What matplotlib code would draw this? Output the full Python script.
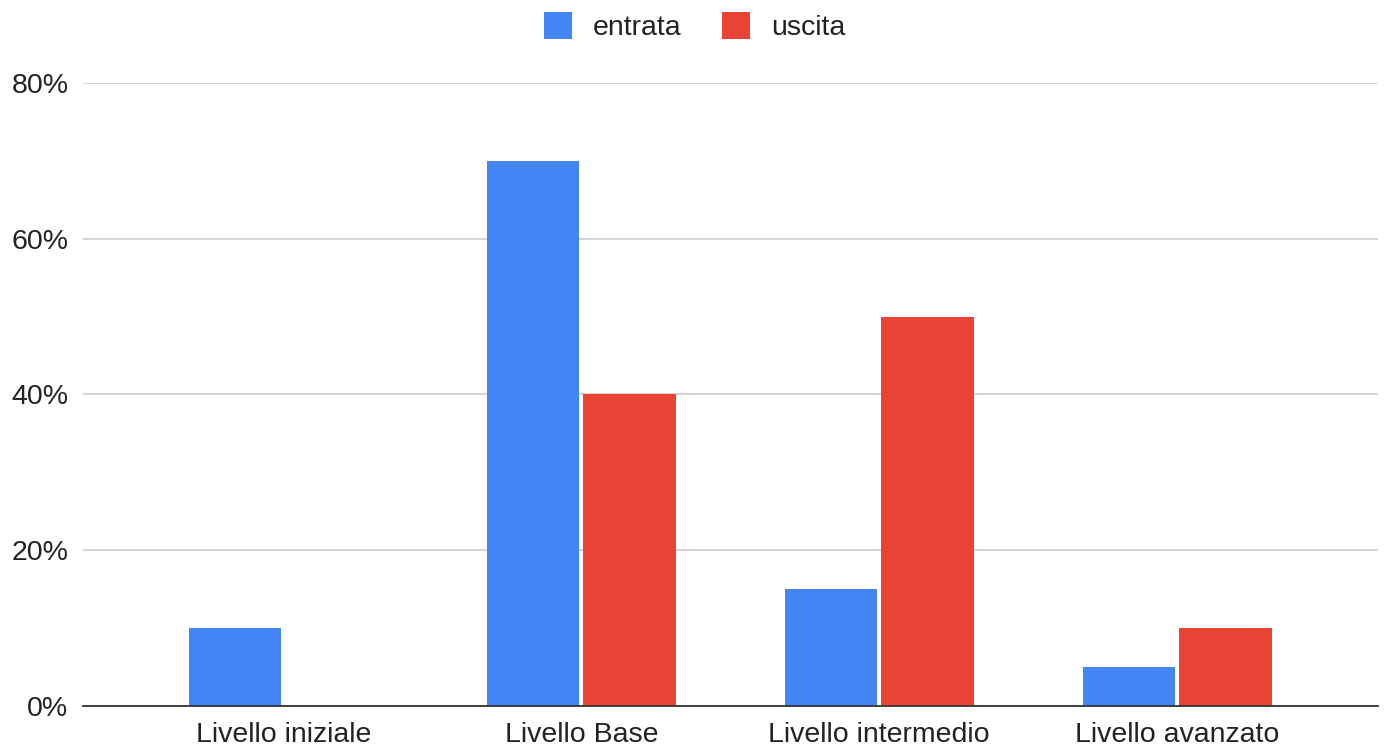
import matplotlib
matplotlib.use("Agg")
import matplotlib.pyplot as plt
import numpy as np

# Data
categories = ["Livello iniziale", "Livello Base", "Livello intermedio", "Livello avanzato"]
entrata = [10, 70, 15, 5]
uscita = [0, 40, 50, 10]
yticks = [0, 20, 40, 60, 80]

plt.rcParams['font.family'] = ['Liberation Sans', 'DejaVu Sans']

fig = plt.figure(figsize=(13.89, 7.54), dpi=100)
ax = fig.add_axes([0.0598, 0.0637, 0.9322, 0.8263])

x = np.arange(len(categories))
w = 0.31
gap = 0.007
ax.bar(x - w / 2 - gap, entrata, w, color="#4285F4", label="entrata", zorder=3)
ax.bar(x + w / 2 + gap, uscita, w, color="#EA4335", label="uscita", zorder=3)

ax.set_xlim(-0.673, 3.674)
ax.set_ylim(0, 80)
ax.set_yticks(yticks)
ax.set_yticklabels([f"{v}%" for v in yticks])
ax.set_xticks(x)
ax.set_xticklabels(categories)
ax.tick_params(axis="both", length=0, labelsize=20.5, colors="#222222")
ax.tick_params(axis="y", pad=10.5)
ax.tick_params(axis="x", pad=11.5)

ax.grid(axis="y", color="#cccccc", linewidth=1.2, zorder=0)
for s in ["top", "right", "left"]:
    ax.spines[s].set_visible(False)
ax.spines["bottom"].set_color("#333333")
ax.spines["bottom"].set_linewidth(1.3)
ax.spines["bottom"].set_zorder(4)

leg = fig.legend(loc="center", bbox_to_anchor=(0.5, 0.965), ncol=2, frameon=False,
                 fontsize=20.5, handlelength=1.0, handleheight=1.1, columnspacing=1.4,
                 handletextpad=0.74, borderpad=0, borderaxespad=0)
for t in leg.get_texts():
    t.set_color("#222222")

fig.savefig("out.png", dpi=100)
